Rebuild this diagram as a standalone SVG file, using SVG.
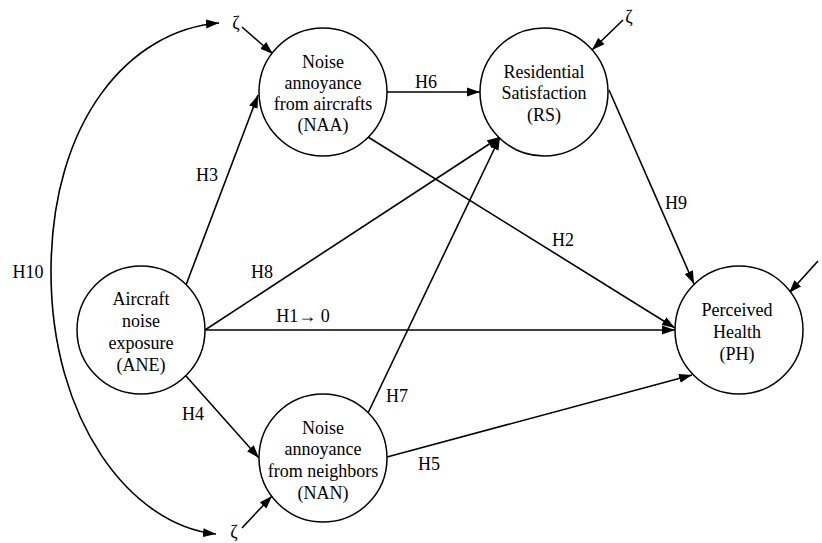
<svg xmlns="http://www.w3.org/2000/svg" width="822" height="543" viewBox="0 0 822 543">
<defs>
<marker id="arr" markerUnits="userSpaceOnUse" markerWidth="14" markerHeight="10" refX="13" refY="5" orient="auto">
<path d="M0,0.5 L13,5 L0,9.5 z" fill="#000"/>
</marker>
<style>
.c{fill:#fff;stroke:#000;stroke-width:1.5}
.t{font-family:"Liberation Serif","Times New Roman",serif;font-size:18px;fill:#000;text-anchor:middle}
.e{stroke:#000;stroke-width:1.6;fill:none;marker-end:url(#arr)}
</style>
</defs>
<rect width="822" height="543" fill="#fff"/>
<g id="connectors">
<path class="e" d="M51 272 C51 120 130 30 219 23"/>
<path class="e" d="M51 272 C51 420 130 525 216 534"/>
<line class="e" x1="242" y1="27" x2="273" y2="54"/>
<line class="e" x1="623" y1="20" x2="592" y2="50"/>
<line class="e" x1="242" y1="528" x2="272" y2="496"/>
<line class="e" x1="818" y1="261" x2="789" y2="293"/>
<line class="e" x1="186" y1="285" x2="258" y2="95"/>
<line class="e" x1="205" y1="330" x2="500" y2="137"/>
<line class="e" x1="205" y1="330" x2="675" y2="330"/>
<line class="e" x1="186" y1="376" x2="259" y2="458"/>
<line class="e" x1="387" y1="92" x2="480" y2="92"/>
<line class="e" x1="368" y1="137" x2="675" y2="328"/>
<line class="e" x1="609" y1="90" x2="694" y2="284"/>
<line class="e" x1="368" y1="413" x2="500" y2="137"/>
<line class="e" x1="387" y1="457" x2="692" y2="375"/>
</g>
<g id="edge-labels">
<text class="t" x="28" y="278">H10</text>
<text class="t" x="207" y="181">H3</text>
<text class="t" x="262" y="278">H8</text>
<text class="t" x="303" y="322">H1→ 0</text>
<text class="t" x="193" y="420">H4</text>
<text class="t" x="426" y="88">H6</text>
<text class="t" x="563" y="246">H2</text>
<text class="t" x="676" y="209">H9</text>
<text class="t" x="397" y="402">H7</text>
<text class="t" x="429" y="470">H5</text>
<text class="t" x="236" y="29">ζ</text>
<text class="t" x="629" y="23">ζ</text>
<text class="t" x="234" y="538">ζ</text>
</g>
<g id="NAA">
<circle class="c" cx="323" cy="92" r="64"/>
<text class="t" x="323" y="68">Noise</text>
<text class="t" x="323" y="89">annoyance</text>
<text class="t" x="323" y="110">from aircrafts</text>
<text class="t" x="323" y="131">(NAA)</text>
</g>
<g id="RS">
<circle class="c" cx="544" cy="92" r="64"/>
<text class="t" x="544" y="78">Residential</text>
<text class="t" x="544" y="99">Satisfaction</text>
<text class="t" x="544" y="121">(RS)</text>
</g>
<g id="ANE">
<circle class="c" cx="141" cy="330" r="64"/>
<text class="t" x="141" y="305">Aircraft</text>
<text class="t" x="141" y="327">noise</text>
<text class="t" x="141" y="349">exposure</text>
<text class="t" x="141" y="371">(ANE)</text>
</g>
<g id="NAN">
<circle class="c" cx="323" cy="458" r="64"/>
<text class="t" x="323" y="434">Noise</text>
<text class="t" x="323" y="455">annoyance</text>
<text class="t" x="323" y="477">from neighbors</text>
<text class="t" x="323" y="499">(NAN)</text>
</g>
<g id="PH">
<circle class="c" cx="739" cy="330" r="64"/>
<text class="t" x="737" y="316">Perceived</text>
<text class="t" x="737" y="338">Health</text>
<text class="t" x="737" y="360">(PH)</text>
</g>
</svg>
